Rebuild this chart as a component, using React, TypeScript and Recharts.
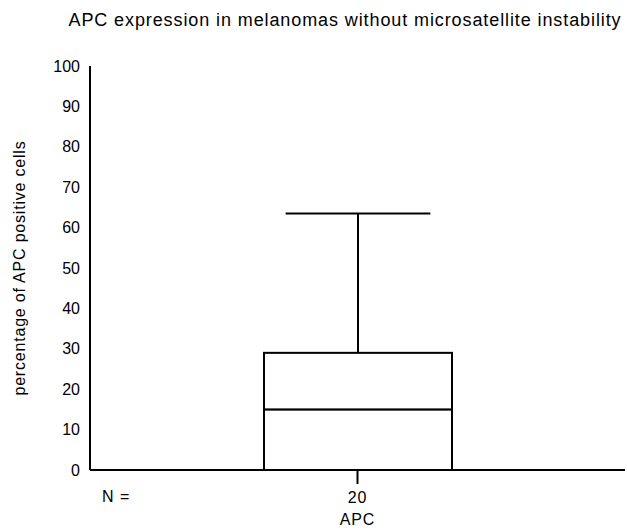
import { ComposedChart, Bar, XAxis, YAxis } from 'recharts';

// box plot summary
const groups = ['APC'];
const counts = [20];
const minValues = [0];
const q1Values = [0];
const medianValues = [15];
const q3Values = [29];
const maxValues = [63.5];
const yTicks = [0, 10, 20, 30, 40, 50, 60, 70, 80, 90, 100];

const data = groups.map((name, i) => ({
    name,
    n: counts[i],
    base: minValues[i],
    lowWhisker: q1Values[i] - minValues[i],
    lowBox: medianValues[i] - q1Values[i],
    highBox: q3Values[i] - medianValues[i],
    highWhisker: maxValues[i] - q3Values[i],
}));

const FONT = '"Liberation Sans", Arial, Helvetica, sans-serif';
const SPACING = 0.85;

const BoxPart = (props: any) => {
    const { x, y, width, height } = props;
    if (!height) return null;
    return <rect x={x} y={y} width={width} height={height} fill="#fff" stroke="#000" strokeWidth={2} />;
};

// whisker going up from the top of the box, with a cap
const UpperWhisker = (props: any) => {
    const { x, y, width, height } = props;
    if (!height) return null;
    const cx = x + width / 2;
    const cap = width * 0.77;
    return (
        <g stroke="#000" strokeWidth={2}>
            <line x1={cx} y1={y + height} x2={cx} y2={y} />
            <line x1={cx - cap / 2} y1={y} x2={cx + cap / 2} y2={y} />
        </g>
    );
};

const LowerWhisker = (props: any) => {
    const { x, y, width, height } = props;
    if (!height) return null;
    const cx = x + width / 2;
    const cap = width * 0.77;
    return (
        <g stroke="#000" strokeWidth={2}>
            <line x1={cx} y1={y} x2={cx} y2={y + height} />
            <line x1={cx - cap / 2} y1={y + height} x2={cx + cap / 2} y2={y + height} />
        </g>
    );
};

const GroupTick = (props: any) => {
    const { x, y, payload, index } = props;
    return (
        <g fontSize={16} fill="#000" fontFamily={FONT} letterSpacing={SPACING}>
            <text x={x} y={y} dy="0.71em" textAnchor="middle">
                {counts[index]}
            </text>
            <text x={x} y={y + 22} dy="0.71em" textAnchor="middle">
                {payload.value}
            </text>
        </g>
    );
};

const ValueTick = (props: any) => {
    const { x, y, payload } = props;
    return (
        <text x={x} y={y} dy="0.355em" textAnchor="end" fontSize={16} fill="#000" fontFamily={FONT}>
            {payload.value}
        </text>
    );
};

export default function App() {
    return (
        <div style={{ position: 'absolute', left: 0, top: 0, width: 627, height: 530, background: '#fff', fontFamily: FONT }}>
            <div style={{ position: 'absolute', left: 0, top: 10, width: 690, textAlign: 'center', fontSize: 18, letterSpacing: 0.9, color: '#000', whiteSpace: 'nowrap' }}>
                APC expression in melanomas without microsatellite instability
            </div>
            <div style={{ position: 'absolute', left: 102, top: 488, fontSize: 16, letterSpacing: 1, color: '#000' }}>N =</div>
            <ComposedChart
                width={627}
                height={530}
                data={data}
                margin={{ top: 66, right: 2, left: 20, bottom: 20 }}
                barSize={188}
            >
                <XAxis
                    dataKey="name"
                    axisLine={{ stroke: '#000', strokeWidth: 2 }}
                    tickLine={{ stroke: '#000', strokeWidth: 2 }}
                    tickSize={14}
                    tickMargin={8}
                    height={40}
                    tick={<GroupTick />}
                />
                <YAxis
                    type="number"
                    domain={[0, 100]}
                    ticks={yTicks}
                    interval={0}
                    width={70}
                    axisLine={{ stroke: '#000', strokeWidth: 2 }}
                    tickLine={false}
                    tickMargin={4}
                    tick={<ValueTick />}
                    label={{
                        value: 'percentage of APC positive cells',
                        angle: -90,
                        position: 'insideLeft',
                        dx: -6,
                        style: { textAnchor: 'middle', fill: '#000', fontSize: 16, letterSpacing: 0.8, fontFamily: FONT },
                    }}
                />
                <Bar dataKey="base" stackId="box" fill="none" isAnimationActive={false} />
                <Bar dataKey="lowWhisker" stackId="box" shape={<LowerWhisker />} isAnimationActive={false} />
                <Bar dataKey="lowBox" stackId="box" shape={<BoxPart />} isAnimationActive={false} />
                <Bar dataKey="highBox" stackId="box" shape={<BoxPart />} isAnimationActive={false} />
                <Bar dataKey="highWhisker" stackId="box" shape={<UpperWhisker />} isAnimationActive={false} />
            </ComposedChart>
        </div>
    );
}
